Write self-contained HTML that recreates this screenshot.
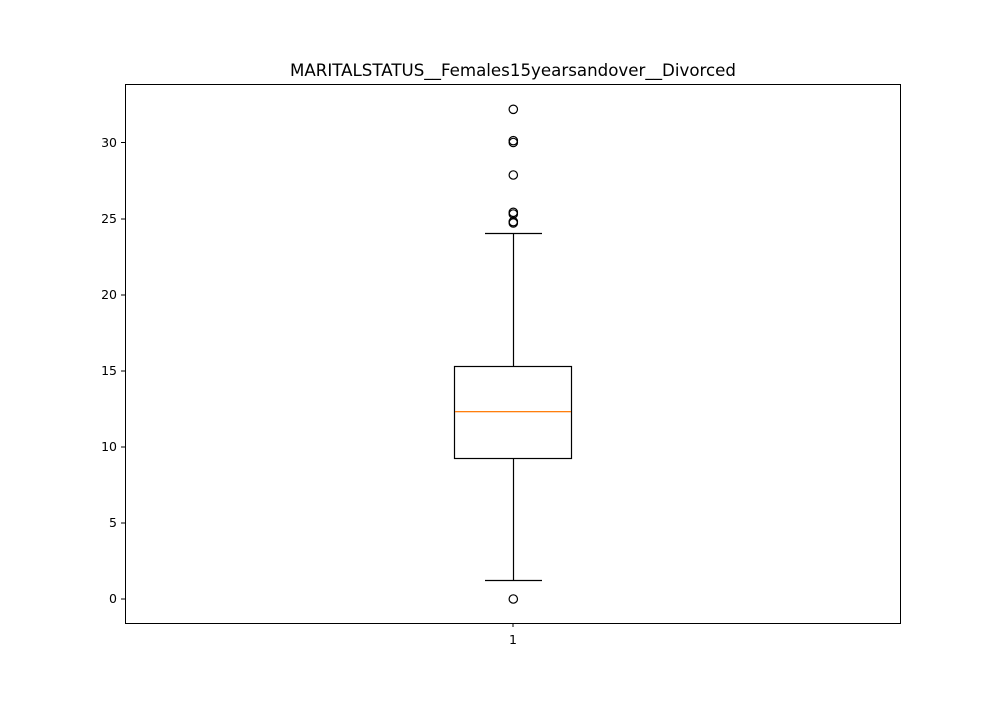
<!DOCTYPE html>
<html><head><style>body{margin:0;background:#fff}</style></head><body>
<svg width="1000" height="700" xmlns="http://www.w3.org/2000/svg" font-family="'DejaVu Sans', sans-serif">
<rect width="1000" height="700" fill="#fff"/>
<rect x="125.5" y="84.5" width="775" height="539" fill="none" stroke="#000" stroke-width="1"/>
<text x="513" y="76" text-anchor="middle" font-size="16.6" textLength="446" lengthAdjust="spacingAndGlyphs">MARITALSTATUS__Females15yearsandover__Divorced</text>
<g stroke="#000" stroke-width="1">
<line x1="121" y1="599" x2="125" y2="599"/>
<line x1="121" y1="523" x2="125" y2="523"/>
<line x1="121" y1="447" x2="125" y2="447"/>
<line x1="121" y1="371" x2="125" y2="371"/>
<line x1="121" y1="295" x2="125" y2="295"/>
<line x1="121" y1="219" x2="125" y2="219"/>
<line x1="121" y1="142.5" x2="125" y2="142.5"/>
<line x1="513" y1="623" x2="513" y2="627"/>
</g>
<g font-size="12.5" text-anchor="end">
<text x="117" y="603">0</text>
<text x="117" y="527">5</text>
<text x="117" y="451">10</text>
<text x="117" y="375">15</text>
<text x="117" y="299">20</text>
<text x="117" y="223">25</text>
<text x="117" y="147">30</text>
</g>
<text x="513" y="644" font-size="12.5" text-anchor="middle">1</text>
<g stroke="#000" stroke-width="1.2" fill="none">
<rect x="454.5" y="366.5" width="117" height="92"/>
<line x1="513.5" y1="366" x2="513.5" y2="233"/>
<line x1="513.5" y1="459" x2="513.5" y2="580"/>
<line x1="485" y1="233.5" x2="542" y2="233.5"/>
<line x1="485" y1="580.5" x2="542" y2="580.5"/>
<circle cx="513.3" cy="109.3" r="4.2"/>
<circle cx="513.3" cy="140.7" r="4.2"/>
<circle cx="513.3" cy="142.5" r="4.2"/>
<circle cx="513.3" cy="175" r="4.2"/>
<circle cx="513.3" cy="212.3" r="4.2"/>
<circle cx="513.3" cy="214" r="4.2"/>
<circle cx="513.3" cy="221.7" r="4.2"/>
<circle cx="513.3" cy="223" r="4.2"/>
<circle cx="513.3" cy="599" r="4.2"/>
</g>
<rect x="455" y="411" width="116" height="1.3" fill="#ff7f0e"/>
</svg>
</body></html>
